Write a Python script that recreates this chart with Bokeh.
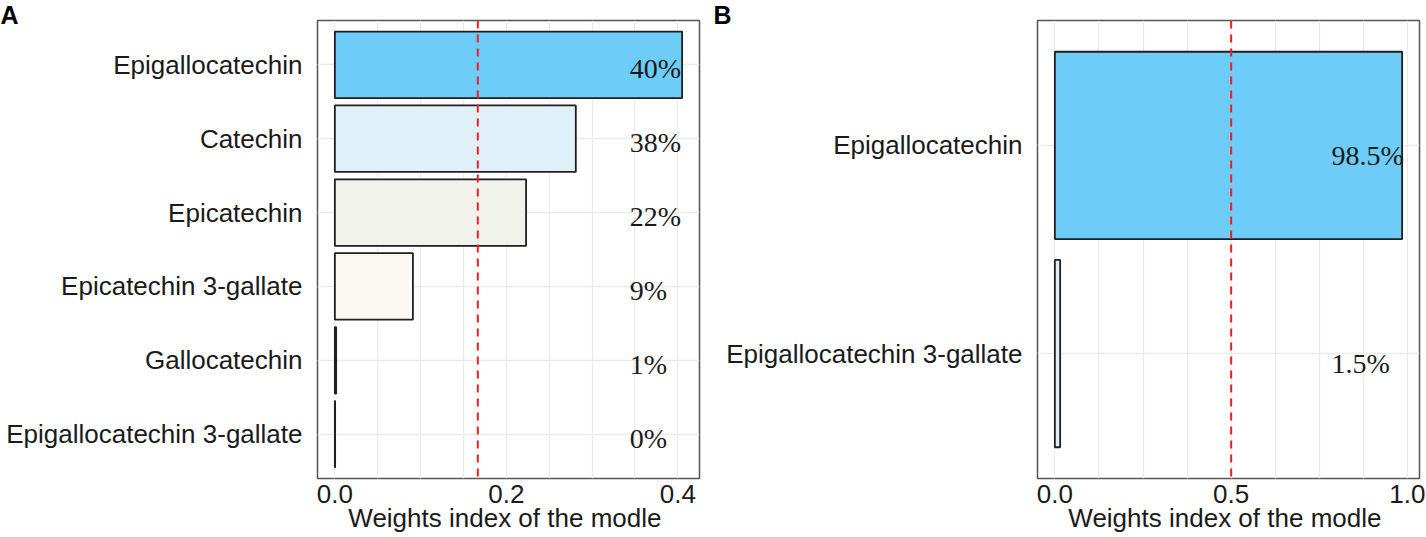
from bokeh.plotting import figure
from bokeh.models import Range1d, FactorRange, FixedTicker, NumeralTickFormatter, Span, Title, ColumnDataSource
from bokeh.layouts import row
from bokeh.embed import file_html
from bokeh.resources import INLINE
from bokeh.core.properties import value

# ---------------- data ----------------
A_compounds = ["Epigallocatechin", "Catechin", "Epicatechin",
               "Epicatechin 3-gallate", "Gallocatechin", "Epigallocatechin 3-gallate"]
A_weights = [0.405, 0.281, 0.223, 0.091, 0.0015, 0.0003]
A_labels = ["40%", "38%", "22%", "9%", "1%", "0%"]
A_colors = ["#6DCDF8", "#DFF0F8", "#F1F2EC", "#FCF8F4", "#F6EEE8", "#F0E6DE"]
A_mean = 0.1667
A_ticks = [0.0, 0.2, 0.4]
A_minor = [0.05, 0.1, 0.15, 0.25, 0.3, 0.35]

B_compounds = ["Epigallocatechin", "Epigallocatechin 3-gallate"]
B_weights = [0.985, 0.015]
B_labels = ["98.5%", "1.5%"]
B_colors = ["#6DCDF8", "#DFF0F8"]
B_mean = 0.5
B_ticks = [0.0, 0.5, 1.0]
B_minor = [0.125, 0.25, 0.375, 0.625, 0.75, 0.875]

SANS = "Liberation Sans"
SERIF = "Liberation Serif"
GRID = "#EBEBEB"


def panel(compounds, weights, labels, colors, mean, ticks, minor, label_x,
          label_dy, letter, border_left, border_right):
    n = len(compounds)
    wmax = max(weights)
    pad = 0.05 * wmax
    yr = FactorRange(factors=list(reversed(compounds)),
                     range_padding=0.2 / n, range_padding_units="percent")
    p = figure(y_range=yr, x_range=Range1d(-pad, wmax + pad),
               frame_width=382, frame_height=458,
               min_border_left=border_left, min_border_right=border_right,
               min_border_top=20, min_border_bottom=52,
               output_backend="svg", toolbar_location=None,
               background_fill_color="white", border_fill_color="white")
    src = ColumnDataSource(dict(c=compounds, w=weights, lab=labels, col=colors))
    p.hbar(y="c", left=0, right="w", height=0.9, source=src,
           fill_color="col", line_color="#1f1f1f", line_width=1.8)
    p.add_layout(Span(location=mean, dimension="height", line_color="#F01E1E",
                      line_width=2, line_dash="8 6"))
    p.text(x=label_x, y="c", text="lab", source=src,
           text_font=value(SERIF), text_font_size="28px", text_color="#1a1a1a",
           text_align="left", text_baseline="middle", y_offset=label_dy)

    p.outline_line_color = "#555555"
    p.outline_line_width = 1.5

    p.xaxis.ticker = FixedTicker(ticks=ticks, minor_ticks=minor)
    p.xaxis.formatter = NumeralTickFormatter(format="0.0")
    p.xaxis.axis_label = "Weights index of the  modle"
    for ax in (p.xaxis, p.yaxis):
        ax.axis_line_color = None
        ax.major_tick_line_color = None
        ax.minor_tick_line_color = None
        ax.major_label_text_font = SANS
        ax.major_label_text_font_size = "26px"
        ax.major_label_text_color = "#1a1a1a"
        ax.axis_label_text_font = SANS
        ax.axis_label_text_font_size = "26px"
        ax.axis_label_text_font_style = "normal"
        ax.axis_label_text_color = "#1a1a1a"
    p.xaxis.major_label_standoff = 0
    p.xaxis.axis_label_standoff = -3
    p.yaxis.major_label_standoff = 9

    p.xgrid.grid_line_color = GRID
    p.xgrid.grid_line_width = 1.3
    p.xgrid.minor_grid_line_color = GRID
    p.xgrid.minor_grid_line_width = 1.3
    p.ygrid.grid_line_color = GRID
    p.ygrid.grid_line_width = 1.3

    p.add_layout(Title(text=letter, align="left", offset=-border_left,
                       text_font=SANS, text_font_size="25px",
                       text_font_style="bold", text_color="black",
                       standoff=-16), "above")
    return p


pA = panel(A_compounds, A_weights, A_labels, A_colors, A_mean, A_ticks, A_minor,
           0.344, 4, "A", 317, 14)
pB = panel(B_compounds, B_weights, B_labels, B_colors, B_mean, B_ticks, B_minor,
           0.785, 10, "B", 324, 7)

layout = row(pA, pB)
open("out.html", "w").write(file_html(layout, INLINE))
